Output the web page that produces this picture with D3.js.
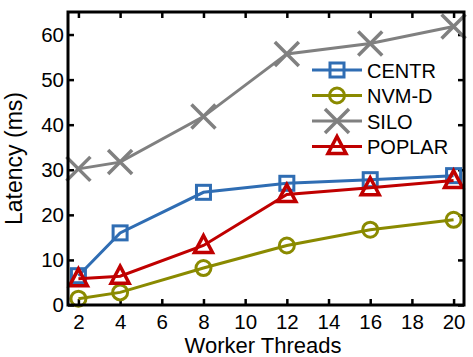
<!DOCTYPE html>
<meta charset="utf-8">
<style>
body { margin: 0; background: #fff; }
text { font-family: "Liberation Sans", Arial, sans-serif; fill: #000; }
</style>
<body>
<svg width="473" height="357"></svg>
<script src="https://d3js.org/d3.v7.min.js"></script>
<script>
// data
var threads = [2, 4, 8, 12, 16, 20];
var centr  = [6.5, 16, 25, 27, 27.8, 28.7];
var nvmd   = [1.4, 2.8, 8.2, 13.2, 16.7, 18.9];
var silo   = [30.2, 31.7, 41.8, 55.7, 58, 61.8];
var poplar = [5.8, 6.4, 13.2, 24.5, 26, 27.6];
var xTicks = [2, 4, 6, 8, 10, 12, 14, 16, 18, 20];
var yTicks = [0, 10, 20, 30, 40, 50, 60];

var series = [
  {name: "CENTR",  values: centr,  color: "#2f6db3", shape: "square"},
  {name: "NVM-D",  values: nvmd,   color: "#8a8a00", shape: "circle"},
  {name: "SILO",   values: silo,   color: "#808080", shape: "cross"},
  {name: "POPLAR", values: poplar, color: "#c00000", shape: "triangle"}
];

var svg = d3.select("svg"),
    margin = {top: 12, right: 9, bottom: 52, left: 68},
    width = +svg.attr("width") - margin.left - margin.right,
    height = +svg.attr("height") - margin.top - margin.bottom;

var x = d3.scaleLinear().domain([1.5, 20.5]).range([0, width]),
    y = d3.scaleLinear().domain([0, 65]).range([height, 0]);

var g = svg.append("g")
    .attr("transform", "translate(" + margin.left + "," + margin.top + ")");

// ticks inside, mirrored on top / right
function styleAxis(sel) {
  sel.select(".domain").remove();
  sel.selectAll("line").attr("stroke", "#000").attr("stroke-width", 2.5);
  sel.selectAll("text").style("font-size", "20.5px");
}
g.append("g").attr("transform", "translate(0," + height + ")")
  .call(d3.axisBottom(x).tickValues(xTicks).tickSizeInner(-6).tickSizeOuter(0).tickPadding(9))
  .call(styleAxis);
g.append("g")
  .call(d3.axisTop(x).tickValues(xTicks).tickSizeInner(-6).tickSizeOuter(0).tickFormat(""))
  .call(styleAxis);
g.append("g")
  .call(d3.axisLeft(y).tickValues(yTicks).tickSizeInner(-6).tickSizeOuter(0).tickPadding(4))
  .call(styleAxis);
g.append("g").attr("transform", "translate(" + width + ",0)")
  .call(d3.axisRight(y).tickValues(yTicks).tickSizeInner(-6).tickSizeOuter(0).tickFormat(""))
  .call(styleAxis);

var line = d3.line()
    .x(function(d, i) { return x(threads[i]); })
    .y(function(d) { return y(d); });

function marker(sel, shape, color) {
  if (shape === "square") {
    sel.append("rect").attr("x", -7).attr("y", -7).attr("width", 14).attr("height", 14)
      .attr("fill", "none").attr("stroke", color).attr("stroke-width", 3);
  } else if (shape === "circle") {
    sel.append("circle").attr("r", 7.5)
      .attr("fill", "none").attr("stroke", color).attr("stroke-width", 3);
  } else if (shape === "cross") {
    sel.append("path").attr("d", "M-12,-12L12,12M-12,12L12,-12")
      .attr("fill", "none").attr("stroke", color).attr("stroke-width", 3.5);
  } else {
    sel.append("path").attr("d", "M0,-10L9,7L-9,7Z")
      .attr("fill", "none").attr("stroke", color).attr("stroke-width", 3.5)
      .attr("stroke-linejoin", "miter");
  }
}

series.forEach(function(s) {
  g.append("path").datum(s.values)
    .attr("fill", "none").attr("stroke", s.color).attr("stroke-width", 3)
    .attr("d", line);
  g.selectAll(null).data(s.values).enter().append("g")
    .attr("transform", function(d, i) { return "translate(" + x(threads[i]) + "," + y(d) + ")"; })
    .each(function() { marker(d3.select(this), s.shape, s.color); });
});

// frame
g.append("rect").attr("width", width).attr("height", height)
  .attr("fill", "none").attr("stroke", "#000").attr("stroke-width", 3);

// legend
var legend = svg.append("g").attr("transform", "translate(312,70)");
series.forEach(function(s, i) {
  var row = legend.append("g").attr("transform", "translate(0," + (i * 25.5) + ")");
  row.append("line").attr("x1", 0).attr("x2", 50)
    .attr("stroke", s.color).attr("stroke-width", 3);
  var m = row.append("g").attr("transform", "translate(25,0)");
  marker(m, s.shape, s.color);
  row.append("text").attr("x", 55).attr("y", 7.5)
    .style("font-size", "20px").text(s.name);
});

// axis titles
svg.append("text")
  .attr("x", margin.left + width / 2 - 3).attr("y", 352.5)
  .attr("text-anchor", "middle").style("font-size", "22px")
  .text("Worker Threads");
svg.append("text")
  .attr("transform", "translate(22," + (margin.top + height / 2) + ") rotate(-90)")
  .attr("text-anchor", "middle").style("font-size", "23px")
  .text("Latency (ms)");
</script>
</body>
